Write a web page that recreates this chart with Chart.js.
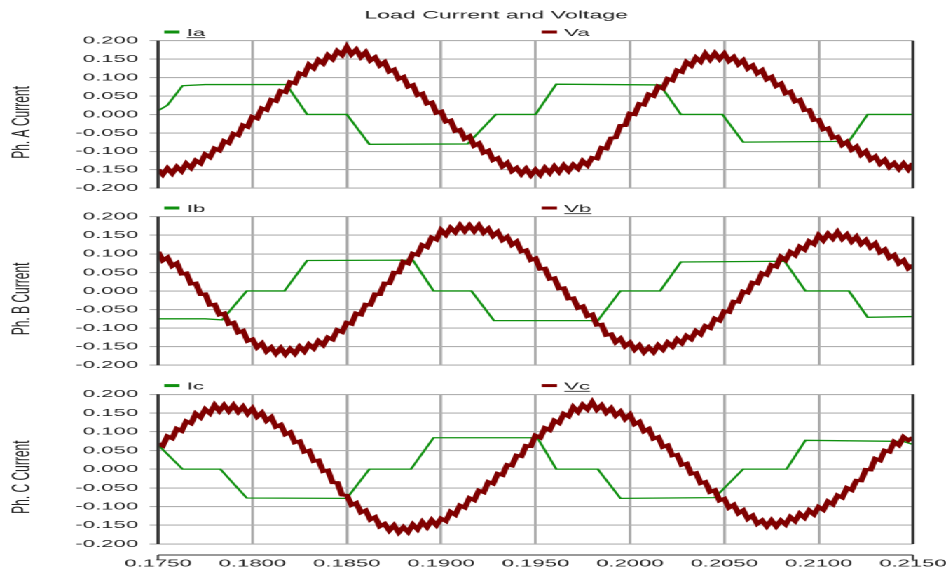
<!DOCTYPE html>
<html>
<head>
<meta charset="utf-8">
<title>Load Current and Voltage</title>
<script src="https://cdn.jsdelivr.net/npm/chart.js@4.4.1/dist/chart.umd.min.js"></script>
<style>
  html, body { margin: 0; padding: 0; background: #fff; }
  /* the original plot is stretched sideways, so draw it narrow and widen it */
  #stage { position: absolute; left: 0; top: 0; width: 450px; height: 576px;
           transform: scaleX(2.10222); transform-origin: 0 0; }
  #stage canvas { position: absolute; left: 0; }
</style>
</head>
<body>
<div id="stage">
  <canvas id="pa" width="450" height="200" style="top:0px"></canvas>
  <canvas id="pb" width="450" height="200" style="top:177px"></canvas>
  <canvas id="pc" width="450" height="222" style="top:354px"></canvas>
</div>
<script>
// sample times of the voltage traces (s)
const vTime = [
  0.17500, 0.17525, 0.17550, 0.17575, 0.17600, 0.17625, 0.17650, 0.17675,
  0.17700, 0.17725, 0.17750, 0.17775, 0.17800, 0.17825, 0.17850, 0.17875,
  0.17900, 0.17925, 0.17950, 0.17975, 0.18000, 0.18025, 0.18050, 0.18075,
  0.18100, 0.18125, 0.18150, 0.18175, 0.18200, 0.18225, 0.18250, 0.18275,
  0.18300, 0.18325, 0.18350, 0.18375, 0.18400, 0.18425, 0.18450, 0.18475,
  0.18500, 0.18525, 0.18550, 0.18575, 0.18600, 0.18625, 0.18650, 0.18675,
  0.18700, 0.18725, 0.18750, 0.18775, 0.18800, 0.18825, 0.18850, 0.18875,
  0.18900, 0.18925, 0.18950, 0.18975, 0.19000, 0.19025, 0.19050, 0.19075,
  0.19100, 0.19125, 0.19150, 0.19175, 0.19200, 0.19225, 0.19250, 0.19275,
  0.19300, 0.19325, 0.19350, 0.19375, 0.19400, 0.19425, 0.19450, 0.19475,
  0.19500, 0.19525, 0.19550, 0.19575, 0.19600, 0.19625, 0.19650, 0.19675,
  0.19700, 0.19725, 0.19750, 0.19775, 0.19800, 0.19825, 0.19850, 0.19875,
  0.19900, 0.19925, 0.19950, 0.19975, 0.20000, 0.20025, 0.20050, 0.20075,
  0.20100, 0.20125, 0.20150, 0.20175, 0.20200, 0.20225, 0.20250, 0.20275,
  0.20300, 0.20325, 0.20350, 0.20375, 0.20400, 0.20425, 0.20450, 0.20475,
  0.20500, 0.20525, 0.20550, 0.20575, 0.20600, 0.20625, 0.20650, 0.20675,
  0.20700, 0.20725, 0.20750, 0.20775, 0.20800, 0.20825, 0.20850, 0.20875,
  0.20900, 0.20925, 0.20950, 0.20975, 0.21000, 0.21025, 0.21050, 0.21075,
  0.21100, 0.21125, 0.21150, 0.21175, 0.21200, 0.21225, 0.21250, 0.21275,
  0.21300, 0.21325, 0.21350, 0.21375, 0.21400, 0.21425, 0.21450, 0.21475,
  0.21500
];

const va = [
  -0.149, -0.163, -0.146, -0.160, -0.142, -0.154, -0.133, -0.145,
  -0.125, -0.133, -0.108, -0.116, -0.092, -0.098, -0.072, -0.078,
  -0.052, -0.057, -0.029, -0.034, -0.006, -0.011, 0.017, 0.012,
  0.040, 0.036, 0.064, 0.060, 0.088, 0.084, 0.112, 0.107,
  0.135, 0.125, 0.148, 0.138, 0.161, 0.150, 0.172, 0.161,
  0.183, 0.163, 0.176, 0.156, 0.169, 0.146, 0.155, 0.133,
  0.142, 0.116, 0.122, 0.096, 0.102, 0.075, 0.080, 0.052,
  0.057, 0.029, 0.033, 0.004, 0.008, -0.020, -0.016, -0.045,
  -0.041, -0.066, -0.059, -0.085, -0.078, -0.104, -0.098, -0.124,
  -0.118, -0.141, -0.131, -0.154, -0.145, -0.162, -0.147, -0.165,
  -0.150, -0.164, -0.145, -0.159, -0.141, -0.156, -0.138, -0.153,
  -0.136, -0.147, -0.126, -0.138, -0.117, -0.120, -0.090, -0.093,
  -0.064, -0.063, -0.030, -0.030, 0.003, 0.000, 0.029, 0.026,
  0.055, 0.050, 0.076, 0.070, 0.097, 0.092, 0.120, 0.115,
  0.142, 0.132, 0.154, 0.143, 0.165, 0.149, 0.166, 0.150,
  0.165, 0.145, 0.156, 0.136, 0.147, 0.124, 0.133, 0.111,
  0.120, 0.095, 0.102, 0.077, 0.084, 0.057, 0.062, 0.035,
  0.040, 0.011, 0.013, -0.016, -0.014, -0.041, -0.037, -0.064,
  -0.060, -0.083, -0.074, -0.096, -0.087, -0.110, -0.100, -0.123,
  -0.114, -0.134, -0.123, -0.143, -0.132, -0.148, -0.133, -0.149,
  -0.132
];

const vb = [
  0.106, 0.082, 0.090, 0.067, 0.075, 0.046, 0.048, 0.019,
  0.021, -0.009, -0.008, -0.038, -0.036, -0.064, -0.060, -0.089,
  -0.085, -0.112, -0.107, -0.135, -0.130, -0.152, -0.141, -0.163,
  -0.152, -0.169, -0.154, -0.171, -0.156, -0.169, -0.150, -0.163,
  -0.144, -0.155, -0.135, -0.146, -0.125, -0.131, -0.105, -0.111,
  -0.085, -0.089, -0.060, -0.064, -0.036, -0.038, -0.008, -0.009,
  0.021, 0.020, 0.050, 0.049, 0.079, 0.074, 0.101, 0.097,
  0.124, 0.118, 0.144, 0.138, 0.164, 0.151, 0.170, 0.158,
  0.177, 0.161, 0.177, 0.161, 0.177, 0.157, 0.168, 0.148,
  0.159, 0.137, 0.146, 0.124, 0.133, 0.106, 0.110, 0.083,
  0.088, 0.059, 0.061, 0.032, 0.035, 0.006, 0.008, -0.021,
  -0.019, -0.046, -0.041, -0.068, -0.063, -0.092, -0.090, -0.119,
  -0.116, -0.138, -0.128, -0.149, -0.139, -0.158, -0.146, -0.165,
  -0.152, -0.165, -0.146, -0.158, -0.139, -0.150, -0.130, -0.141,
  -0.121, -0.130, -0.108, -0.117, -0.094, -0.100, -0.074, -0.080,
  -0.054, -0.057, -0.028, -0.030, -0.001, -0.005, 0.023, 0.020,
  0.048, 0.043, 0.070, 0.065, 0.092, 0.083, 0.105, 0.096,
  0.119, 0.111, 0.134, 0.126, 0.150, 0.136, 0.154, 0.141,
  0.159, 0.140, 0.152, 0.133, 0.146, 0.126, 0.137, 0.117,
  0.128, 0.104, 0.112, 0.089, 0.097, 0.074, 0.083, 0.061,
  0.070
];

const vc = [
  0.068, 0.062, 0.088, 0.082, 0.108, 0.102, 0.128, 0.122,
  0.148, 0.138, 0.160, 0.149, 0.171, 0.155, 0.171, 0.155,
  0.171, 0.153, 0.167, 0.148, 0.162, 0.140, 0.151, 0.129,
  0.139, 0.113, 0.119, 0.093, 0.099, 0.071, 0.075, 0.046,
  0.050, 0.021, 0.024, -0.006, -0.003, -0.036, -0.036, -0.069,
  -0.070, -0.096, -0.090, -0.116, -0.110, -0.135, -0.128, -0.153,
  -0.146, -0.164, -0.150, -0.169, -0.155, -0.168, -0.148, -0.161,
  -0.141, -0.155, -0.136, -0.150, -0.132, -0.139, -0.114, -0.122,
  -0.097, -0.103, -0.077, -0.083, -0.057, -0.062, -0.034, -0.039,
  -0.012, -0.016, 0.012, 0.009, 0.037, 0.034, 0.063, 0.061,
  0.090, 0.084, 0.110, 0.104, 0.130, 0.123, 0.148, 0.141,
  0.166, 0.153, 0.172, 0.160, 0.179, 0.159, 0.171, 0.151,
  0.163, 0.143, 0.154, 0.134, 0.146, 0.120, 0.127, 0.101,
  0.108, 0.081, 0.086, 0.059, 0.064, 0.036, 0.039, 0.011,
  0.015, -0.013, -0.010, -0.038, -0.034, -0.061, -0.056, -0.084,
  -0.079, -0.103, -0.095, -0.118, -0.110, -0.133, -0.124, -0.146,
  -0.137, -0.153, -0.137, -0.153, -0.137, -0.148, -0.128, -0.139,
  -0.119, -0.130, -0.110, -0.121, -0.101, -0.109, -0.086, -0.094,
  -0.070, -0.076, -0.050, -0.056, -0.030, -0.031, -0.001, -0.002,
  0.028, 0.023, 0.050, 0.046, 0.073, 0.064, 0.086, 0.077,
  0.085
];

// phase currents: corner points of the stepped waveforms
const iaT = [0.1750, 0.1755, 0.1763, 0.1775, 0.1818, 0.1829, 0.1850, 0.1862, 0.1914, 0.1929,
             0.1950, 0.1961, 0.2016, 0.2027, 0.2049, 0.2060, 0.2116, 0.2126, 0.2150];
const iaV = [0.010, 0.025, 0.078, 0.081, 0.081, 0.000, 0.000, -0.081, -0.080, 0.000,
             0.000, 0.082, 0.080, 0.000, 0.000, -0.075, -0.073, 0.000, 0.000];

const ibT = [0.1750, 0.1775, 0.1784, 0.1797, 0.1817, 0.1829, 0.1885, 0.1896, 0.1916, 0.1928,
             0.1983, 0.1995, 0.2016, 0.2027, 0.2082, 0.2093, 0.2116, 0.2126, 0.2150];
const ibV = [-0.075, -0.075, -0.078, 0.000, 0.000, 0.082, 0.083, 0.000, 0.000, -0.080,
             -0.080, 0.000, 0.000, 0.078, 0.080, 0.000, 0.000, -0.071, -0.069];

const icT = [0.1750, 0.1763, 0.1783, 0.1797, 0.1850, 0.1862, 0.1884, 0.1896, 0.1951, 0.1961,
             0.1983, 0.1995, 0.2045, 0.2060, 0.2083, 0.2093, 0.2145, 0.2150];
const icV = [0.065, 0.000, 0.000, -0.077, -0.078, 0.000, 0.000, 0.084, 0.084, 0.000,
             0.000, -0.078, -0.076, 0.000, 0.000, 0.077, 0.074, 0.066];

const xMin = 0.175, xMax = 0.215, xStep = 0.005;
const yMin = -0.2, yMax = 0.2, yStep = 0.05;

const FONT = '"Liberation Sans", Arial, sans-serif';
const GREEN = '#109010';
const MAROON = '#800000';
const PLOT_LEFT = 75.16;

const pts = (xs, ys) => xs.map((x, i) => ({ x: x, y: ys[i] }));
const fmt = (v, d) => (Math.abs(v) < 1e-9 ? 0 : v).toFixed(d);

// title, axis caption, legend and frame lines
const deco = {
  id: 'deco',
  afterDatasetsDraw(chart, args, o) {
    const { ctx, chartArea: a } = chart;
    ctx.save();
    ctx.strokeStyle = '#333';
    ctx.lineWidth = 1.5;
    ctx.beginPath();
    ctx.moveTo(a.left, a.top); ctx.lineTo(a.left, a.bottom);
    ctx.moveTo(a.right, a.top); ctx.lineTo(a.right, a.bottom);
    ctx.stroke();

    if (o.axisLineY) {
      ctx.lineWidth = 1;
      ctx.beginPath();
      ctx.moveTo(a.left, o.axisLineY); ctx.lineTo(a.right, o.axisLineY);
      ctx.moveTo(a.left, o.axisLineY); ctx.lineTo(a.left, o.axisLineY + 5);
      ctx.moveTo(a.right, o.axisLineY); ctx.lineTo(a.right, o.axisLineY + 5);
      ctx.stroke();
    }

    ctx.fillStyle = '#222';
    if (o.title) {
      ctx.font = '11px ' + FONT;
      ctx.textAlign = 'center';
      ctx.textBaseline = 'alphabetic';
      ctx.fillText(o.title, 236, 18.3);
    }

    // legend: first item at the left of the plot, second from the middle
    ctx.font = '10.5px ' + FONT;
    ctx.textAlign = 'left';
    ctx.textBaseline = 'alphabetic';
    chart.data.datasets.forEach((ds, i) => {
      const x0 = i === 0 ? a.left + 3 : (a.left + a.right) / 2 + 3;
      ctx.fillStyle = ds.borderColor;
      ctx.fillRect(x0, a.top - 10.2, 7.2, 3);
      ctx.fillStyle = '#222';
      const tx = x0 + 10.7, ty = a.top - 4.7;
      ctx.fillText(ds.label, tx, ty);
      if (o.underline === i) {
        ctx.fillRect(tx, ty + 1.3, ctx.measureText(ds.label).width, 0.8);
      }
    });

    ctx.font = '12px ' + FONT;
    ctx.textAlign = 'center';
    ctx.textBaseline = 'middle';
    ctx.translate(10.5, (a.top + a.bottom) / 2 + 8);
    ctx.rotate(-Math.PI / 2);
    ctx.fillText(o.yTitle, 0, 0);
    ctx.restore();
  }
};

function panel(id, curLabel, curPts, voltLabel, voltPts, o) {
  return new Chart(document.getElementById(id), {
    type: 'line',
    data: {
      datasets: [
        { label: curLabel, data: curPts, borderColor: GREEN, backgroundColor: GREEN,
          borderWidth: 1.3, pointRadius: 0, tension: 0, order: 1 },
        { label: voltLabel, data: voltPts, borderColor: MAROON, backgroundColor: MAROON,
          borderWidth: 3, pointRadius: 0, tension: 0, order: 0 }
      ]
    },
    options: {
      responsive: false,
      animation: false,
      events: [],
      devicePixelRatio: 2,
      layout: { padding: { left: 0, right: 15.7, top: o.top, bottom: o.bottom } },
      plugins: {
        legend: { display: false },
        tooltip: { enabled: false },
        deco: o
      },
      scales: {
        x: {
          type: 'linear',
          min: xMin,
          max: xMax,
          afterFit: s => { s.height = o.xHeight; s.paddingLeft = 0; s.paddingRight = 0; },
          ticks: {
            display: !!o.showX,
            stepSize: xStep,
            autoSkip: false,
            maxRotation: 0,
            padding: 13.2,
            color: '#222',
            font: { family: FONT, size: 10.5 },
            callback: v => fmt(v, 4)
          },
          grid: { color: '#a8a8a8', lineWidth: 1.3, drawTicks: false },
          border: { display: false }
        },
        y: {
          min: yMin,
          max: yMax,
          afterFit: s => { s.width = PLOT_LEFT; },
          ticks: {
            stepSize: yStep,
            padding: 5.5,
            color: '#222',
            font: { family: FONT, size: 10.5 },
            callback: v => fmt(v, 3)
          },
          grid: { color: '#b0b0b0', lineWidth: 1.1, tickLength: 4 },
          border: { display: false }
        }
      }
    },
    plugins: [deco]
  });
}

panel('pa', 'Ia', pts(iaT, iaV), 'Va', pts(vTime, va),
      { top: 40.7, bottom: 11, xHeight: 0, yTitle: 'Ph. A Current', underline: 0,
        title: 'Load Current and Voltage' });
panel('pb', 'Ib', pts(ibT, ibV), 'Vb', pts(vTime, vb),
      { top: 39.7, bottom: 10.3, xHeight: 0, yTitle: 'Ph. B Current', underline: 1 });
panel('pc', 'Ic', pts(icT, icV), 'Vc', pts(vTime, vc),
      { top: 40.3, bottom: 0, xHeight: 32, showX: true, axisLineY: 201,
        yTitle: 'Ph. C Current', underline: 1 });
</script>
</body>
</html>
